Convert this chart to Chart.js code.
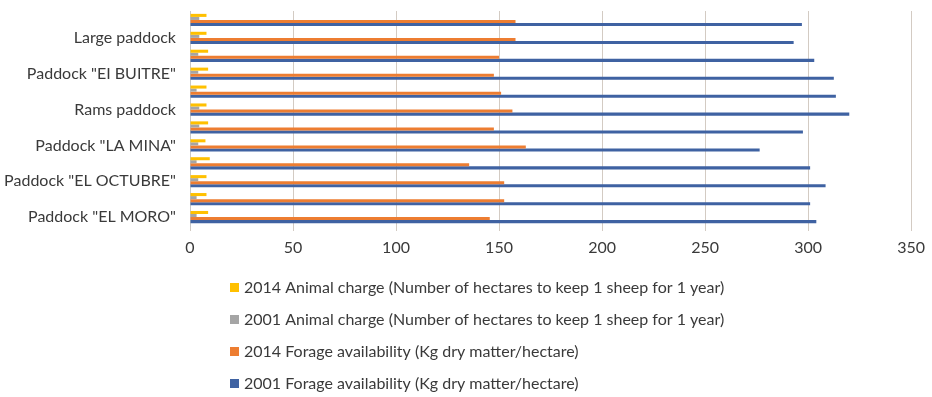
<!DOCTYPE html>
<html>
<head>
<meta charset="utf-8">
<script src="https://cdn.jsdelivr.net/npm/chart.js@4.4.1/dist/chart.umd.min.js"></script>
<style>
  html, body { margin: 0; padding: 0; background: #ffffff; }
  #wrap { width: 932px; height: 397px; position: relative; }
</style>
</head>
<body>
<div id="wrap"><canvas id="chart"></canvas></div>
<script>
// Paddocks, top to bottom (only every other one carries a visible label)
const paddocks = ['', 'Large paddock', '', 'Paddock "EI BUITRE"', '', 'Rams paddock', '',
                  'Paddock "LA MINA"', '', 'Paddock "EL OCTUBRE"', '', 'Paddock "EL MORO"'];

// Animal charge: hectares needed to keep 1 sheep for 1 year
const charge2014 = [8, 8, 8.8, 8.8, 8, 8, 8.8, 7.5, 9.6, 8, 8, 8.8];
const charge2001 = [4.5, 4.5, 4, 4, 3.2, 4.5, 4.5, 4, 3.2, 4, 3.2, 3.2];

// Forage availability: kg of dry matter per hectare
const forage2014 = [158, 158, 150, 147.5, 151, 156.5, 147.5, 163, 135.5, 152.5, 152.5, 145.5];
const forage2001 = [297, 293, 303, 312.5, 313.5, 320, 297.5, 276.5, 301, 308.5, 301, 304];

const seriesNames = [
  '2014 Animal charge (Number of hectares to keep 1 sheep for 1 year)',
  '2001 Animal charge (Number of hectares to keep 1 sheep for 1 year)',
  '2014 Forage availability (Kg dry matter/hectare)',
  '2001 Forage availability (Kg dry matter/hectare)'
];
const seriesColors = ['#FFC000', '#A5A5A5', '#ED7D31', '#3F62A2'];

const FONT = 'Lato, "Open Sans", sans-serif';
const TEXT = '#3A3A3A';

// Legend drawn as a single column below the axis
const columnLegend = {
  id: 'columnLegend',
  afterDraw(chart) {
    const ctx = chart.ctx;
    ctx.save();
    ctx.font = '16px ' + FONT;
    ctx.textBaseline = 'middle';
    ctx.textAlign = 'left';
    chart.data.datasets.forEach((ds, i) => {
      const y = 288 + i * 32;
      ctx.fillStyle = ds.backgroundColor;
      ctx.fillRect(230, y - 5, 9, 9);
      ctx.fillStyle = TEXT;
      ctx.fillText(ds.label, 244, y);
    });
    ctx.restore();
  }
};

const datasets = [charge2014, charge2001, forage2014, forage2001].map((vals, i) => ({
  label: seriesNames[i],
  data: vals,
  backgroundColor: seriesColors[i],
  borderWidth: 0,
  categoryPercentage: 0.68,
  barPercentage: 1.0
}));

new Chart(document.getElementById('chart'), {
  type: 'bar',
  data: { labels: paddocks, datasets },
  options: {
    indexAxis: 'y',
    responsive: true,
    maintainAspectRatio: false,
    animation: false,
    layout: { padding: { top: 11, right: 19, left: 0, bottom: 131 } },
    plugins: {
      legend: { display: false },
      tooltip: { enabled: false }
    },
    scales: {
      x: {
        min: 0,
        max: 350,
        ticks: { stepSize: 50, color: TEXT, font: { family: FONT, size: 16 }, padding: 7 },
        grid: { color: '#D3CBC3', lineWidth: 1, tickLength: 5, drawTicks: true },
        border: { display: false },
        afterFit(scale) { scale.height = 40; }
      },
      y: {
        ticks: { color: TEXT, font: { family: FONT, size: 16 }, autoSkip: false, padding: 14 },
        grid: { display: false, drawTicks: false },
        border: { display: true, color: '#C8C8C8', width: 1 },
        afterFit(scale) {
          scale.width = 190;
          scale.paddingTop = 0;
          scale.paddingBottom = 0;
        }
      }
    }
  },
  plugins: [columnLegend]
});
</script>
</body>
</html>
